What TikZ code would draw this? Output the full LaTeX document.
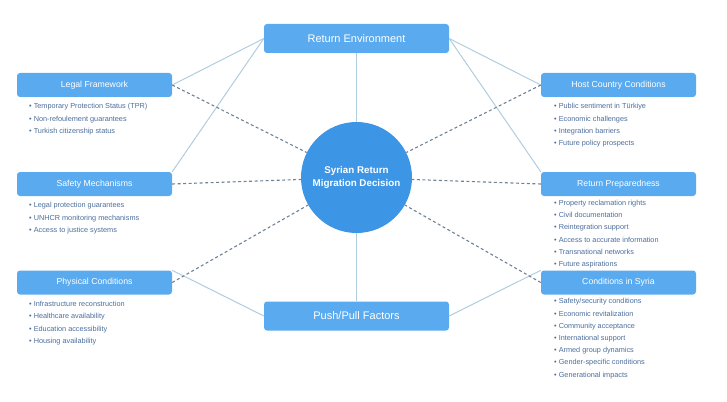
\documentclass[tikz,border=0pt]{standalone}
\usepackage{fontspec}
\setmainfont{Liberation Sans}
\definecolor{boxblue}{HTML}{5AAAF0}
\definecolor{circblue}{HTML}{3D95E5}
\definecolor{bultext}{HTML}{4A6D9C}
\definecolor{solidln}{HTML}{B0CDE0}
\definecolor{dashln}{HTML}{6F8296}
\tikzset{
  mainbox/.style={draw=none, fill=boxblue, rounded corners=3pt, minimum width=185pt, minimum height=29pt, text=white, font=\fontsize{11}{13}\selectfont, inner sep=0pt},
  sidebox/.style={draw=none, fill=boxblue, rounded corners=3pt, minimum width=155pt, minimum height=24pt, text=white, font=\fontsize{8.7}{10}\selectfont, inner sep=0pt},
  centre/.style={circle, fill=circblue, minimum size=111pt, inner sep=0pt, text=white, align=center, font=\fontsize{9.8}{12.5}\selectfont\bfseries},
  bul/.style={anchor=west, inner sep=0pt, text=bultext, font=\fontsize{7.3}{8}\selectfont, text height=5.3pt, text depth=1.5pt},
  solidlink/.style={draw=solidln, line width=1pt},
  dashlink/.style={draw=dashln, line width=1.1pt, dash pattern=on 3pt off 2.5pt},
}
\begin{document}
\begin{tikzpicture}[x=1pt,y=-1pt]
\useasboundingbox (0,0) rectangle (727,401);
% nodes
\node[centre] (circ) at (356.5,177.5) {Syrian Return\\Migration Decision};
\node[mainbox] (re) at (356.5,38.5) {Return Environment};
\node[mainbox] (pp) at (356.5,316) {Push/Pull Factors};
\node[sidebox] (lf) at (94.5,85) {Legal Framework};
\node[sidebox] (sm) at (94.5,184) {Safety Mechanisms};
\node[sidebox] (pc) at (94.5,282.5) {Physical Conditions};
\node[sidebox] (hc) at (618.5,85) {Host Country Conditions};
\node[sidebox] (rp) at (618.5,184) {Return Preparedness};
\node[sidebox] (cs) at (618.5,282.5) {Conditions in Syria};
% solid links
\draw[solidlink] (re.south) -- (circ);
\draw[solidlink] (circ) -- (pp.north);
\draw[solidlink] (re.west) -- (lf.east);
\draw[solidlink] (re.west) -- (sm.north east);
\draw[solidlink] (re.east) -- (hc.west);
\draw[solidlink] (re.east) -- (rp.north west);
\draw[solidlink] (pp.west) -- (pc.north east);
\draw[solidlink] (pp.east) -- (cs.north west);
% dashed links
\draw[dashlink] (lf.east) -- (circ);
\draw[dashlink] (sm.east) -- (circ);
\draw[dashlink] (pc.east) -- (circ);
\draw[dashlink] (hc.west) -- (circ);
\draw[dashlink] (rp.west) -- (circ);
\draw[dashlink] (cs.west) -- (circ);
% bullet lists
\foreach \t [count=\i] in {Temporary Protection Status (TPR), Non-refoulement guarantees, Turkish citizenship status}
  \node[bul] (lf-\i) at (29,107+12.3*\i-12.3) {• \t};
\foreach \t [count=\i] in {Legal protection guarantees, UNHCR monitoring mechanisms, Access to justice systems}
  \node[bul] (sm-\i) at (29,206+12.3*\i-12.3) {• \t};
\foreach \t [count=\i] in {Infrastructure reconstruction, Healthcare availability, Education accessibility, Housing availability}
  \node[bul] (pc-\i) at (29,304.5+12.3*\i-12.3) {• \t};
\foreach \t [count=\i] in {Public sentiment in Türkiye, Economic challenges, Integration barriers, Future policy prospects}
  \node[bul] (hc-\i) at (554,107+12.3*\i-12.3) {• \t};
\foreach \t [count=\i] in {Property reclamation rights, Civil documentation, Reintegration support, Access to accurate information, Transnational networks, Future aspirations}
  \node[bul] (rp-\i) at (554,203.5+12.2*\i-12.2) {• \t};
\foreach \t [count=\i] in {Safety/security conditions, Economic revitalization, Community acceptance, International support, Armed group dynamics, Gender-specific conditions, Generational impacts}
  \node[bul] (cs-\i) at (554,302+12.2*\i-12.2) {• \t};
\end{tikzpicture}
\end{document}
